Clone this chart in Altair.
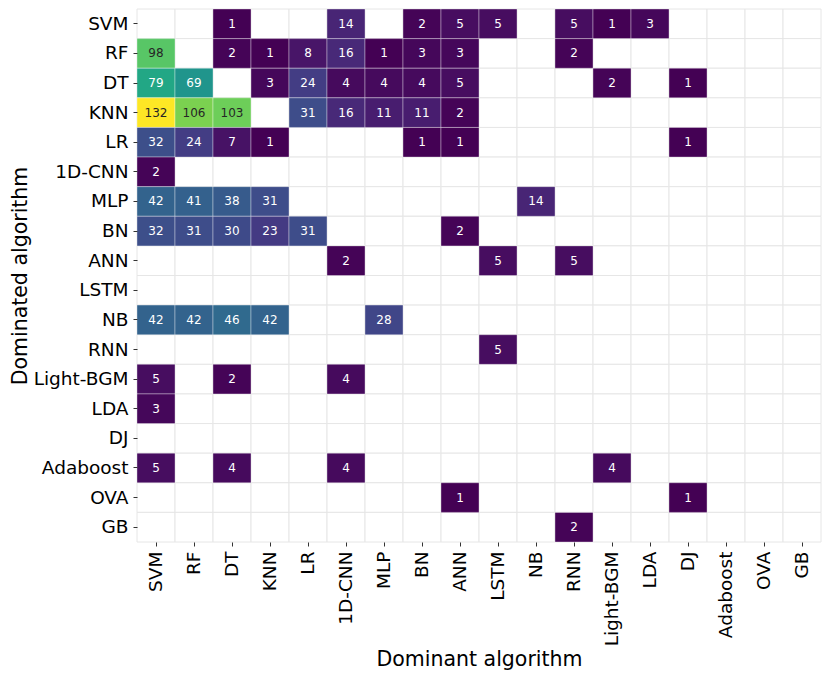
import altair as alt
import pandas as pd
import itertools

algorithms = ["SVM", "RF", "DT", "KNN", "LR", "1D-CNN", "MLP", "BN", "ANN",
              "LSTM", "NB", "RNN", "Light-BGM", "LDA", "DJ", "Adaboost", "OVA", "GB"]

dominated = (["SVM"] * 8 + ["RF"] * 9 + ["DT"] * 10 + ["KNN"] * 8 + ["LR"] * 7 +
             ["1D-CNN"] + ["MLP"] * 5 + ["BN"] * 6 + ["ANN"] * 3 + ["NB"] * 5 +
             ["RNN"] + ["Light-BGM"] * 3 + ["LDA"] + ["Adaboost"] * 4 + ["OVA"] * 2 + ["GB"])
dominant = (["DT", "1D-CNN", "BN", "ANN", "LSTM", "RNN", "Light-BGM", "LDA"] +
            ["SVM", "DT", "KNN", "LR", "1D-CNN", "MLP", "BN", "ANN", "RNN"] +
            ["SVM", "RF", "KNN", "LR", "1D-CNN", "MLP", "BN", "ANN", "Light-BGM", "DJ"] +
            ["SVM", "RF", "DT", "LR", "1D-CNN", "MLP", "BN", "ANN"] +
            ["SVM", "RF", "DT", "KNN", "BN", "ANN", "DJ"] +
            ["SVM"] +
            ["SVM", "RF", "DT", "KNN", "NB"] +
            ["SVM", "RF", "DT", "KNN", "LR", "ANN"] +
            ["1D-CNN", "LSTM", "RNN"] +
            ["SVM", "RF", "DT", "KNN", "MLP"] +
            ["LSTM"] +
            ["SVM", "DT", "1D-CNN"] +
            ["SVM"] +
            ["SVM", "DT", "1D-CNN", "Light-BGM"] +
            ["ANN", "DJ"] +
            ["RNN"])
counts = ([1, 14, 2, 5, 5, 5, 1, 3] +
          [98, 2, 1, 8, 16, 1, 3, 3, 2] +
          [79, 69, 3, 24, 4, 4, 4, 5, 2, 1] +
          [132, 106, 103, 31, 16, 11, 11, 2] +
          [32, 24, 7, 1, 1, 1, 1] +
          [2] +
          [42, 41, 38, 31, 14] +
          [32, 31, 30, 23, 31, 2] +
          [2, 5, 5] +
          [42, 42, 46, 42, 28] +
          [5] +
          [5, 2, 4] +
          [3] +
          [5, 4, 4, 4] +
          [1, 1] +
          [2])

df = pd.DataFrame({"dominated": dominated, "dominant": dominant, "count": counts})
grid = pd.DataFrame(list(itertools.product(algorithms, algorithms)),
                    columns=["dominated", "dominant"])

FONT = "DejaVu Sans"

x_enc = alt.X("dominant:N", sort=algorithms,
              scale=alt.Scale(domain=algorithms, paddingInner=0, paddingOuter=0),
              axis=alt.Axis(title="Dominant algorithm", labelAngle=270,
                            titleX=342, titleY=123, titleBaseline="alphabetic",
                            titleAlign="center"))
y_enc = alt.Y("dominated:N", sort=algorithms,
              scale=alt.Scale(domain=algorithms, paddingInner=0, paddingOuter=0),
              axis=alt.Axis(title="Dominated algorithm", titleAngle=270,
                            titleX=-111, titleY=266.5, titleBaseline="alphabetic",
                            titleAlign="center"))

bg = alt.Chart(grid).mark_rect(fill="white", stroke="#e6e6e6", strokeWidth=1).encode(
    x=x_enc, y=y_enc)

cells = alt.Chart(df).mark_rect(stroke="white", strokeOpacity=0.35, strokeWidth=1).encode(
    x=x_enc, y=y_enc,
    color=alt.Color("count:Q", scale=alt.Scale(scheme="viridis", domain=[1, 132]),
                    legend=None))

labels = alt.Chart(df).mark_text(font=FONT, fontSize=12).encode(
    x=x_enc, y=y_enc,
    text=alt.Text("count:Q"),
    color=alt.condition(alt.datum["count"] > 90, alt.value("#262626"), alt.value("white")))

chart = alt.layer(bg, cells, labels).properties(
    width=684, height=533,
    autosize=alt.AutoSizeParams(type="none"),
    padding={"left": 129, "top": 1, "right": 1, "bottom": 130},
).configure_view(stroke=None).configure_axis(
    domain=False, grid=False, ticks=True, tickColor="#333333", tickSize=4,
    tickWidth=1, labelFont=FONT, labelFontSize=18.5, labelColor="black",
    labelPadding=5, titleFont=FONT, titleFontSize=20.5, titleFontWeight="normal",
    titleColor="black"
)

chart.save("out.html", embed_options={"renderer": "svg", "actions": False})
